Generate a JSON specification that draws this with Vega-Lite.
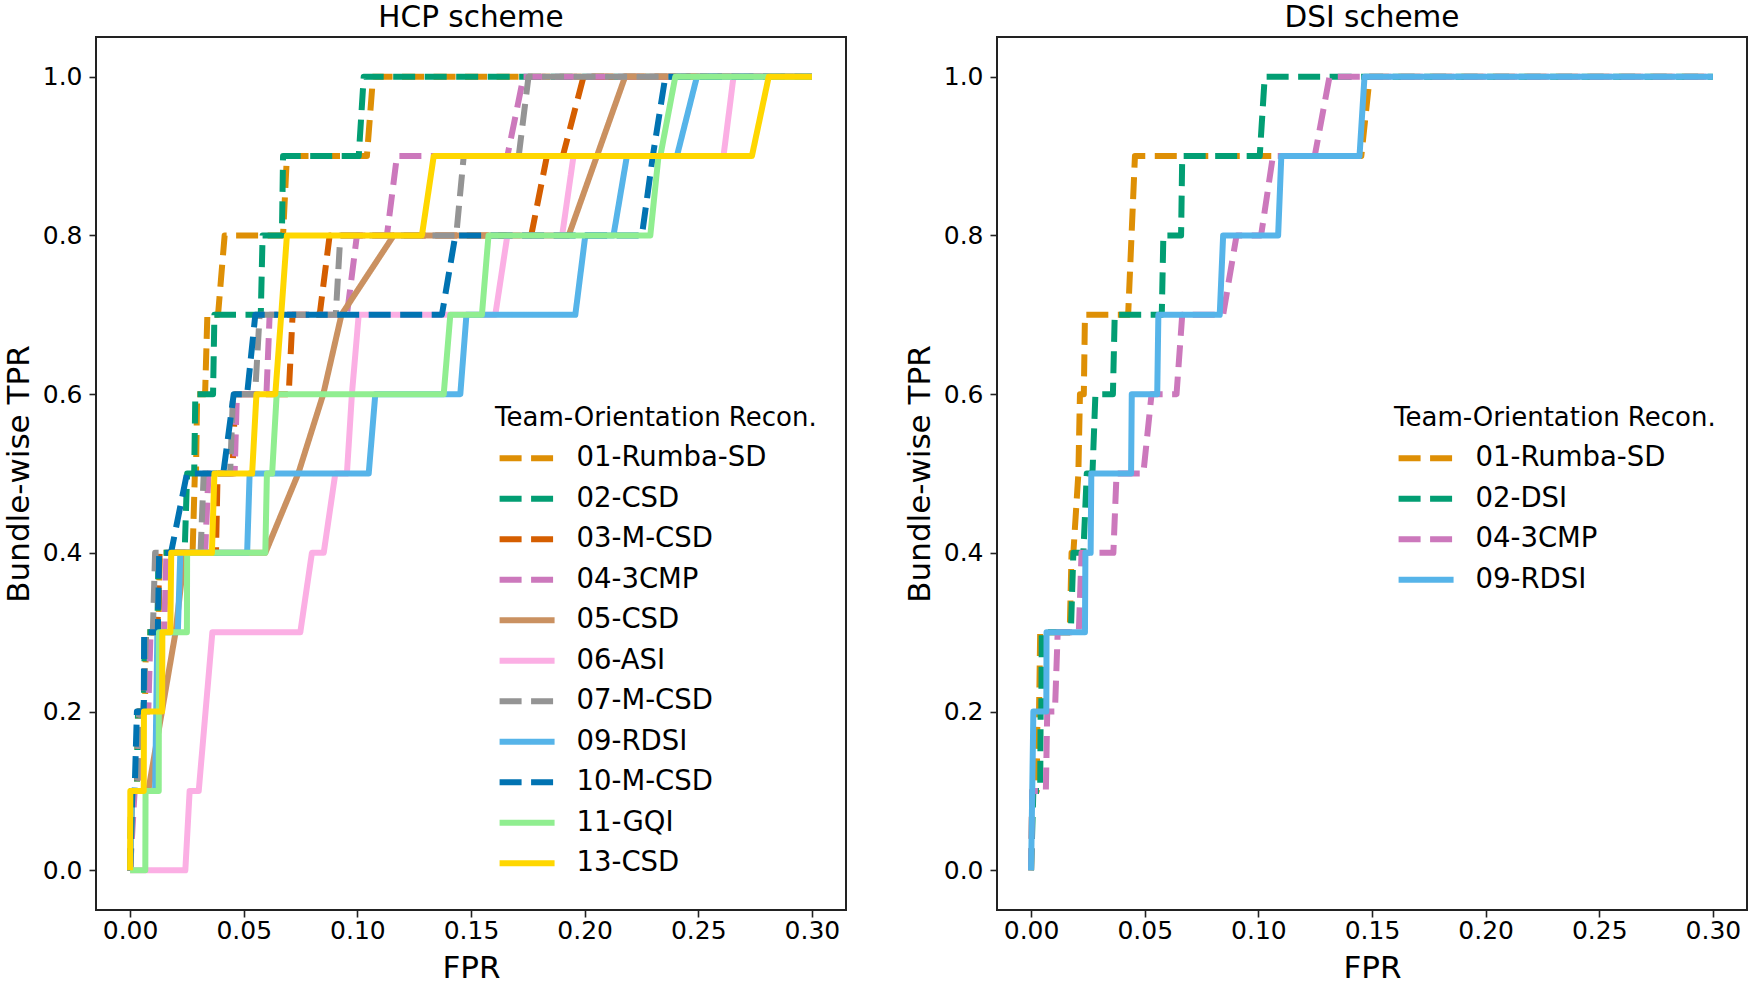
{
"$schema": "https://vega.github.io/schema/vega-lite/v6.json",
"background": "white",
"padding": {"left": 2, "top": 1, "right": 0, "bottom": 0},
"bounds": "flush",
"spacing": 151,
"config": {
  "font": "DejaVu Sans",
  "view": {"stroke": "#222222", "strokeWidth": 2},
  "axis": {"grid": false, "domain": false, "tickColor": "#222222", "tickWidth": 1.6, "tickSize": 7, "labelFont": "DejaVu Sans", "labelFontSize": 25, "labelColor": "black", "titleFont": "DejaVu Sans", "titleFontSize": 31, "titleFontWeight": "normal", "titleColor": "black"},
  "axisX": {"labelPadding": 1, "titlePadding": 10},
  "axisY": {"labelPadding": 7, "titlePadding": 7},
  "legend": {"titleFont": "DejaVu Sans", "titleFontSize": 26, "titleFontWeight": "normal", "titleColor": "black", "labelFont": "DejaVu Sans", "labelFontSize": 27.5, "labelColor": "black", "symbolType": "M-1,0H5", "symbolSize": 336, "symbolStrokeWidth": 6, "rowPadding": 11.5, "titlePadding": 14, "labelOffset": 54, "padding": 0, "labelLimit": 500, "titleLimit": 600},
  "title": {"font": "DejaVu Sans", "fontSize": 29.5, "fontWeight": "normal", "color": "black", "offset": 4}
},
"datasets": {
"hcp": [
{"team":"01-Rumba-SD","i":0,"fpr":0,"tpr":0},{"team":"01-Rumba-SD","i":1,"fpr":0.0005,"tpr":0.1},{"team":"01-Rumba-SD","i":2,"fpr":0.003,"tpr":0.1},{"team":"01-Rumba-SD","i":3,"fpr":0.0035,"tpr":0.2},{"team":"01-Rumba-SD","i":4,"fpr":0.0065,"tpr":0.2},{"team":"01-Rumba-SD","i":5,"fpr":0.007,"tpr":0.3},{"team":"01-Rumba-SD","i":6,"fpr":0.0125,"tpr":0.3},{"team":"01-Rumba-SD","i":7,"fpr":0.013,"tpr":0.4},{"team":"01-Rumba-SD","i":8,"fpr":0.0275,"tpr":0.4},{"team":"01-Rumba-SD","i":9,"fpr":0.0285,"tpr":0.5},{"team":"01-Rumba-SD","i":10,"fpr":0.029,"tpr":0.5},{"team":"01-Rumba-SD","i":11,"fpr":0.0295,"tpr":0.6},{"team":"01-Rumba-SD","i":12,"fpr":0.033,"tpr":0.6},{"team":"01-Rumba-SD","i":13,"fpr":0.034,"tpr":0.7},{"team":"01-Rumba-SD","i":14,"fpr":0.0387,"tpr":0.7},{"team":"01-Rumba-SD","i":15,"fpr":0.0416,"tpr":0.8},{"team":"01-Rumba-SD","i":16,"fpr":0.0673,"tpr":0.8},{"team":"01-Rumba-SD","i":17,"fpr":0.069,"tpr":0.9},{"team":"01-Rumba-SD","i":18,"fpr":0.1042,"tpr":0.9},{"team":"01-Rumba-SD","i":19,"fpr":0.1069,"tpr":1.0},{"team":"01-Rumba-SD","i":20,"fpr":0.3,"tpr":1.0},
{"team":"02-CSD","i":0,"fpr":0,"tpr":0},{"team":"02-CSD","i":1,"fpr":0.0005,"tpr":0.1},{"team":"02-CSD","i":2,"fpr":0.003,"tpr":0.1},{"team":"02-CSD","i":3,"fpr":0.0035,"tpr":0.2},{"team":"02-CSD","i":4,"fpr":0.006,"tpr":0.2},{"team":"02-CSD","i":5,"fpr":0.0065,"tpr":0.3},{"team":"02-CSD","i":6,"fpr":0.012,"tpr":0.3},{"team":"02-CSD","i":7,"fpr":0.0125,"tpr":0.4},{"team":"02-CSD","i":8,"fpr":0.024,"tpr":0.4},{"team":"02-CSD","i":9,"fpr":0.0251,"tpr":0.5},{"team":"02-CSD","i":10,"fpr":0.0282,"tpr":0.5},{"team":"02-CSD","i":11,"fpr":0.0287,"tpr":0.6},{"team":"02-CSD","i":12,"fpr":0.0365,"tpr":0.6},{"team":"02-CSD","i":13,"fpr":0.0371,"tpr":0.7},{"team":"02-CSD","i":14,"fpr":0.0575,"tpr":0.7},{"team":"02-CSD","i":15,"fpr":0.0583,"tpr":0.8},{"team":"02-CSD","i":16,"fpr":0.0668,"tpr":0.8},{"team":"02-CSD","i":17,"fpr":0.0673,"tpr":0.9},{"team":"02-CSD","i":18,"fpr":0.1006,"tpr":0.9},{"team":"02-CSD","i":19,"fpr":0.1028,"tpr":1.0},{"team":"02-CSD","i":20,"fpr":0.3,"tpr":1.0},
{"team":"03-M-CSD","i":0,"fpr":0,"tpr":0},{"team":"03-M-CSD","i":1,"fpr":0.001,"tpr":0.1},{"team":"03-M-CSD","i":2,"fpr":0.003,"tpr":0.1},{"team":"03-M-CSD","i":3,"fpr":0.004,"tpr":0.2},{"team":"03-M-CSD","i":4,"fpr":0.006,"tpr":0.2},{"team":"03-M-CSD","i":5,"fpr":0.007,"tpr":0.3},{"team":"03-M-CSD","i":6,"fpr":0.012,"tpr":0.3},{"team":"03-M-CSD","i":7,"fpr":0.013,"tpr":0.4},{"team":"03-M-CSD","i":8,"fpr":0.0378,"tpr":0.4},{"team":"03-M-CSD","i":9,"fpr":0.0385,"tpr":0.5},{"team":"03-M-CSD","i":10,"fpr":0.045,"tpr":0.5},{"team":"03-M-CSD","i":11,"fpr":0.0463,"tpr":0.6},{"team":"03-M-CSD","i":12,"fpr":0.0698,"tpr":0.6},{"team":"03-M-CSD","i":13,"fpr":0.0715,"tpr":0.7},{"team":"03-M-CSD","i":14,"fpr":0.0834,"tpr":0.7},{"team":"03-M-CSD","i":15,"fpr":0.0878,"tpr":0.8},{"team":"03-M-CSD","i":16,"fpr":0.1765,"tpr":0.8},{"team":"03-M-CSD","i":17,"fpr":0.1834,"tpr":0.9},{"team":"03-M-CSD","i":18,"fpr":0.1904,"tpr":0.9},{"team":"03-M-CSD","i":19,"fpr":0.1995,"tpr":1.0},{"team":"03-M-CSD","i":20,"fpr":0.3,"tpr":1.0},
{"team":"04-3CMP","i":0,"fpr":0,"tpr":0},{"team":"04-3CMP","i":1,"fpr":0.002,"tpr":0.1},{"team":"04-3CMP","i":2,"fpr":0.004,"tpr":0.1},{"team":"04-3CMP","i":3,"fpr":0.005,"tpr":0.2},{"team":"04-3CMP","i":4,"fpr":0.008,"tpr":0.2},{"team":"04-3CMP","i":5,"fpr":0.009,"tpr":0.3},{"team":"04-3CMP","i":6,"fpr":0.015,"tpr":0.3},{"team":"04-3CMP","i":7,"fpr":0.016,"tpr":0.4},{"team":"04-3CMP","i":8,"fpr":0.033,"tpr":0.4},{"team":"04-3CMP","i":9,"fpr":0.0345,"tpr":0.5},{"team":"04-3CMP","i":10,"fpr":0.046,"tpr":0.5},{"team":"04-3CMP","i":11,"fpr":0.047,"tpr":0.6},{"team":"04-3CMP","i":12,"fpr":0.06,"tpr":0.6},{"team":"04-3CMP","i":13,"fpr":0.0614,"tpr":0.7},{"team":"04-3CMP","i":14,"fpr":0.0954,"tpr":0.7},{"team":"04-3CMP","i":15,"fpr":0.0998,"tpr":0.8},{"team":"04-3CMP","i":16,"fpr":0.113,"tpr":0.8},{"team":"04-3CMP","i":17,"fpr":0.1174,"tpr":0.9},{"team":"04-3CMP","i":18,"fpr":0.166,"tpr":0.9},{"team":"04-3CMP","i":19,"fpr":0.1731,"tpr":1.0},{"team":"04-3CMP","i":20,"fpr":0.3,"tpr":1.0},
{"team":"05-CSD","i":0,"fpr":0,"tpr":0},{"team":"05-CSD","i":1,"fpr":0.001,"tpr":0.1},{"team":"05-CSD","i":2,"fpr":0.008,"tpr":0.1},{"team":"05-CSD","i":3,"fpr":0.02,"tpr":0.3},{"team":"05-CSD","i":4,"fpr":0.024,"tpr":0.4},{"team":"05-CSD","i":5,"fpr":0.0595,"tpr":0.4},{"team":"05-CSD","i":6,"fpr":0.074,"tpr":0.5},{"team":"05-CSD","i":7,"fpr":0.085,"tpr":0.6},{"team":"05-CSD","i":8,"fpr":0.093,"tpr":0.7},{"team":"05-CSD","i":9,"fpr":0.116,"tpr":0.8},{"team":"05-CSD","i":10,"fpr":0.193,"tpr":0.8},{"team":"05-CSD","i":11,"fpr":0.2054,"tpr":0.9},{"team":"05-CSD","i":12,"fpr":0.2178,"tpr":1.0},{"team":"05-CSD","i":13,"fpr":0.3,"tpr":1.0},
{"team":"06-ASI","i":0,"fpr":0,"tpr":0},{"team":"06-ASI","i":1,"fpr":0.0243,"tpr":0},{"team":"06-ASI","i":2,"fpr":0.0262,"tpr":0.1},{"team":"06-ASI","i":3,"fpr":0.0302,"tpr":0.1},{"team":"06-ASI","i":4,"fpr":0.0362,"tpr":0.3},{"team":"06-ASI","i":5,"fpr":0.0749,"tpr":0.3},{"team":"06-ASI","i":6,"fpr":0.08,"tpr":0.4},{"team":"06-ASI","i":7,"fpr":0.0852,"tpr":0.4},{"team":"06-ASI","i":8,"fpr":0.0903,"tpr":0.5},{"team":"06-ASI","i":9,"fpr":0.0954,"tpr":0.5},{"team":"06-ASI","i":10,"fpr":0.0976,"tpr":0.6},{"team":"06-ASI","i":11,"fpr":0.1006,"tpr":0.7},{"team":"06-ASI","i":12,"fpr":0.1607,"tpr":0.7},{"team":"06-ASI","i":13,"fpr":0.166,"tpr":0.8},{"team":"06-ASI","i":14,"fpr":0.1901,"tpr":0.8},{"team":"06-ASI","i":15,"fpr":0.1951,"tpr":0.9},{"team":"06-ASI","i":16,"fpr":0.2611,"tpr":0.9},{"team":"06-ASI","i":17,"fpr":0.2655,"tpr":1.0},{"team":"06-ASI","i":18,"fpr":0.3,"tpr":1.0},
{"team":"07-M-CSD","i":0,"fpr":0,"tpr":0},{"team":"07-M-CSD","i":1,"fpr":0.001,"tpr":0.1},{"team":"07-M-CSD","i":2,"fpr":0.003,"tpr":0.1},{"team":"07-M-CSD","i":3,"fpr":0.004,"tpr":0.2},{"team":"07-M-CSD","i":4,"fpr":0.006,"tpr":0.2},{"team":"07-M-CSD","i":5,"fpr":0.007,"tpr":0.3},{"team":"07-M-CSD","i":6,"fpr":0.01,"tpr":0.3},{"team":"07-M-CSD","i":7,"fpr":0.011,"tpr":0.4},{"team":"07-M-CSD","i":8,"fpr":0.031,"tpr":0.4},{"team":"07-M-CSD","i":9,"fpr":0.0324,"tpr":0.5},{"team":"07-M-CSD","i":10,"fpr":0.044,"tpr":0.5},{"team":"07-M-CSD","i":11,"fpr":0.0453,"tpr":0.6},{"team":"07-M-CSD","i":12,"fpr":0.055,"tpr":0.6},{"team":"07-M-CSD","i":13,"fpr":0.057,"tpr":0.7},{"team":"07-M-CSD","i":14,"fpr":0.0905,"tpr":0.7},{"team":"07-M-CSD","i":15,"fpr":0.0925,"tpr":0.8},{"team":"07-M-CSD","i":16,"fpr":0.1435,"tpr":0.8},{"team":"07-M-CSD","i":17,"fpr":0.1468,"tpr":0.9},{"team":"07-M-CSD","i":18,"fpr":0.171,"tpr":0.9},{"team":"07-M-CSD","i":19,"fpr":0.1753,"tpr":1.0},{"team":"07-M-CSD","i":20,"fpr":0.3,"tpr":1.0},
{"team":"09-RDSI","i":0,"fpr":0,"tpr":0},{"team":"09-RDSI","i":1,"fpr":0.001,"tpr":0.1},{"team":"09-RDSI","i":2,"fpr":0.011,"tpr":0.1},{"team":"09-RDSI","i":3,"fpr":0.0115,"tpr":0.2},{"team":"09-RDSI","i":4,"fpr":0.012,"tpr":0.3},{"team":"09-RDSI","i":5,"fpr":0.021,"tpr":0.3},{"team":"09-RDSI","i":6,"fpr":0.0221,"tpr":0.4},{"team":"09-RDSI","i":7,"fpr":0.0515,"tpr":0.4},{"team":"09-RDSI","i":8,"fpr":0.0526,"tpr":0.5},{"team":"09-RDSI","i":9,"fpr":0.105,"tpr":0.5},{"team":"09-RDSI","i":10,"fpr":0.1079,"tpr":0.6},{"team":"09-RDSI","i":11,"fpr":0.1453,"tpr":0.6},{"team":"09-RDSI","i":12,"fpr":0.148,"tpr":0.7},{"team":"09-RDSI","i":13,"fpr":0.1959,"tpr":0.7},{"team":"09-RDSI","i":14,"fpr":0.2003,"tpr":0.8},{"team":"09-RDSI","i":15,"fpr":0.2127,"tpr":0.8},{"team":"09-RDSI","i":16,"fpr":0.2186,"tpr":0.9},{"team":"09-RDSI","i":17,"fpr":0.2406,"tpr":0.9},{"team":"09-RDSI","i":18,"fpr":0.2494,"tpr":1.0},{"team":"09-RDSI","i":19,"fpr":0.3,"tpr":1.0},
{"team":"10-M-CSD","i":0,"fpr":0,"tpr":0},{"team":"10-M-CSD","i":1,"fpr":0.001,"tpr":0.1},{"team":"10-M-CSD","i":2,"fpr":0.002,"tpr":0.1},{"team":"10-M-CSD","i":3,"fpr":0.003,"tpr":0.2},{"team":"10-M-CSD","i":4,"fpr":0.006,"tpr":0.2},{"team":"10-M-CSD","i":5,"fpr":0.0062,"tpr":0.3},{"team":"10-M-CSD","i":6,"fpr":0.0122,"tpr":0.3},{"team":"10-M-CSD","i":7,"fpr":0.0128,"tpr":0.4},{"team":"10-M-CSD","i":8,"fpr":0.018,"tpr":0.4},{"team":"10-M-CSD","i":9,"fpr":0.025,"tpr":0.5},{"team":"10-M-CSD","i":10,"fpr":0.041,"tpr":0.5},{"team":"10-M-CSD","i":11,"fpr":0.0456,"tpr":0.6},{"team":"10-M-CSD","i":12,"fpr":0.0515,"tpr":0.6},{"team":"10-M-CSD","i":13,"fpr":0.0551,"tpr":0.7},{"team":"10-M-CSD","i":14,"fpr":0.1372,"tpr":0.7},{"team":"10-M-CSD","i":15,"fpr":0.1431,"tpr":0.8},{"team":"10-M-CSD","i":16,"fpr":0.2252,"tpr":0.8},{"team":"10-M-CSD","i":17,"fpr":0.23,"tpr":0.9},{"team":"10-M-CSD","i":18,"fpr":0.2355,"tpr":1.0},{"team":"10-M-CSD","i":19,"fpr":0.3,"tpr":1.0},
{"team":"11-GQI","i":0,"fpr":0,"tpr":0},{"team":"11-GQI","i":1,"fpr":0.0067,"tpr":0},{"team":"11-GQI","i":2,"fpr":0.0068,"tpr":0.1},{"team":"11-GQI","i":3,"fpr":0.0126,"tpr":0.1},{"team":"11-GQI","i":4,"fpr":0.0127,"tpr":0.3},{"team":"11-GQI","i":5,"fpr":0.025,"tpr":0.3},{"team":"11-GQI","i":6,"fpr":0.0251,"tpr":0.4},{"team":"11-GQI","i":7,"fpr":0.0595,"tpr":0.4},{"team":"11-GQI","i":8,"fpr":0.0602,"tpr":0.5},{"team":"11-GQI","i":9,"fpr":0.0625,"tpr":0.5},{"team":"11-GQI","i":10,"fpr":0.0645,"tpr":0.6},{"team":"11-GQI","i":11,"fpr":0.138,"tpr":0.6},{"team":"11-GQI","i":12,"fpr":0.1409,"tpr":0.7},{"team":"11-GQI","i":13,"fpr":0.1548,"tpr":0.7},{"team":"11-GQI","i":14,"fpr":0.1577,"tpr":0.8},{"team":"11-GQI","i":15,"fpr":0.2289,"tpr":0.8},{"team":"11-GQI","i":16,"fpr":0.2325,"tpr":0.9},{"team":"11-GQI","i":17,"fpr":0.2333,"tpr":0.9},{"team":"11-GQI","i":18,"fpr":0.2399,"tpr":1.0},{"team":"11-GQI","i":19,"fpr":0.3,"tpr":1.0},
{"team":"13-CSD","i":0,"fpr":0,"tpr":0},{"team":"13-CSD","i":1,"fpr":0.0001,"tpr":0.1},{"team":"13-CSD","i":2,"fpr":0.006,"tpr":0.1},{"team":"13-CSD","i":3,"fpr":0.0061,"tpr":0.2},{"team":"13-CSD","i":4,"fpr":0.0141,"tpr":0.2},{"team":"13-CSD","i":5,"fpr":0.0142,"tpr":0.3},{"team":"13-CSD","i":6,"fpr":0.0177,"tpr":0.3},{"team":"13-CSD","i":7,"fpr":0.0181,"tpr":0.4},{"team":"13-CSD","i":8,"fpr":0.036,"tpr":0.4},{"team":"13-CSD","i":9,"fpr":0.0371,"tpr":0.5},{"team":"13-CSD","i":10,"fpr":0.0537,"tpr":0.5},{"team":"13-CSD","i":11,"fpr":0.0556,"tpr":0.6},{"team":"13-CSD","i":12,"fpr":0.0639,"tpr":0.6},{"team":"13-CSD","i":13,"fpr":0.0665,"tpr":0.7},{"team":"13-CSD","i":14,"fpr":0.069,"tpr":0.8},{"team":"13-CSD","i":15,"fpr":0.1284,"tpr":0.8},{"team":"13-CSD","i":16,"fpr":0.1336,"tpr":0.9},{"team":"13-CSD","i":17,"fpr":0.2736,"tpr":0.9},{"team":"13-CSD","i":18,"fpr":0.281,"tpr":1.0},{"team":"13-CSD","i":19,"fpr":0.3,"tpr":1.0}
],
"dsi": [
{"team":"01-Rumba-SD","i":0,"fpr":0,"tpr":0},{"team":"01-Rumba-SD","i":1,"fpr":0.0005,"tpr":0.1},{"team":"01-Rumba-SD","i":2,"fpr":0.0025,"tpr":0.1},{"team":"01-Rumba-SD","i":3,"fpr":0.0028,"tpr":0.2},{"team":"01-Rumba-SD","i":4,"fpr":0.0035,"tpr":0.2},{"team":"01-Rumba-SD","i":5,"fpr":0.004,"tpr":0.3},{"team":"01-Rumba-SD","i":6,"fpr":0.017,"tpr":0.3},{"team":"01-Rumba-SD","i":7,"fpr":0.0178,"tpr":0.4},{"team":"01-Rumba-SD","i":8,"fpr":0.0186,"tpr":0.4},{"team":"01-Rumba-SD","i":9,"fpr":0.0208,"tpr":0.5},{"team":"01-Rumba-SD","i":10,"fpr":0.0215,"tpr":0.6},{"team":"01-Rumba-SD","i":11,"fpr":0.0232,"tpr":0.6},{"team":"01-Rumba-SD","i":12,"fpr":0.0237,"tpr":0.7},{"team":"01-Rumba-SD","i":13,"fpr":0.0427,"tpr":0.7},{"team":"01-Rumba-SD","i":14,"fpr":0.0457,"tpr":0.9},{"team":"01-Rumba-SD","i":15,"fpr":0.1453,"tpr":0.9},{"team":"01-Rumba-SD","i":16,"fpr":0.149,"tpr":1.0},{"team":"01-Rumba-SD","i":17,"fpr":0.3,"tpr":1.0},
{"team":"02-DSI","i":0,"fpr":0,"tpr":0},{"team":"02-DSI","i":1,"fpr":0.001,"tpr":0.1},{"team":"02-DSI","i":2,"fpr":0.004,"tpr":0.1},{"team":"02-DSI","i":3,"fpr":0.0042,"tpr":0.2},{"team":"02-DSI","i":4,"fpr":0.0045,"tpr":0.2},{"team":"02-DSI","i":5,"fpr":0.0047,"tpr":0.3},{"team":"02-DSI","i":6,"fpr":0.0175,"tpr":0.3},{"team":"02-DSI","i":7,"fpr":0.0186,"tpr":0.4},{"team":"02-DSI","i":8,"fpr":0.023,"tpr":0.4},{"team":"02-DSI","i":9,"fpr":0.0245,"tpr":0.5},{"team":"02-DSI","i":10,"fpr":0.027,"tpr":0.5},{"team":"02-DSI","i":11,"fpr":0.0283,"tpr":0.6},{"team":"02-DSI","i":12,"fpr":0.036,"tpr":0.6},{"team":"02-DSI","i":13,"fpr":0.0368,"tpr":0.7},{"team":"02-DSI","i":14,"fpr":0.0575,"tpr":0.7},{"team":"02-DSI","i":15,"fpr":0.0582,"tpr":0.8},{"team":"02-DSI","i":16,"fpr":0.066,"tpr":0.8},{"team":"02-DSI","i":17,"fpr":0.0665,"tpr":0.9},{"team":"02-DSI","i":18,"fpr":0.1006,"tpr":0.9},{"team":"02-DSI","i":19,"fpr":0.1028,"tpr":1.0},{"team":"02-DSI","i":20,"fpr":0.3,"tpr":1.0},
{"team":"04-3CMP","i":0,"fpr":0,"tpr":0},{"team":"04-3CMP","i":1,"fpr":0.0005,"tpr":0.1},{"team":"04-3CMP","i":2,"fpr":0.0065,"tpr":0.1},{"team":"04-3CMP","i":3,"fpr":0.0071,"tpr":0.2},{"team":"04-3CMP","i":4,"fpr":0.0105,"tpr":0.2},{"team":"04-3CMP","i":5,"fpr":0.0117,"tpr":0.3},{"team":"04-3CMP","i":6,"fpr":0.021,"tpr":0.3},{"team":"04-3CMP","i":7,"fpr":0.0222,"tpr":0.4},{"team":"04-3CMP","i":8,"fpr":0.0362,"tpr":0.4},{"team":"04-3CMP","i":9,"fpr":0.0376,"tpr":0.5},{"team":"04-3CMP","i":10,"fpr":0.0494,"tpr":0.5},{"team":"04-3CMP","i":11,"fpr":0.053,"tpr":0.6},{"team":"04-3CMP","i":12,"fpr":0.064,"tpr":0.6},{"team":"04-3CMP","i":13,"fpr":0.0665,"tpr":0.7},{"team":"04-3CMP","i":14,"fpr":0.0845,"tpr":0.7},{"team":"04-3CMP","i":15,"fpr":0.0904,"tpr":0.8},{"team":"04-3CMP","i":16,"fpr":0.1012,"tpr":0.8},{"team":"04-3CMP","i":17,"fpr":0.1064,"tpr":0.9},{"team":"04-3CMP","i":18,"fpr":0.1248,"tpr":0.9},{"team":"04-3CMP","i":19,"fpr":0.1313,"tpr":1.0},{"team":"04-3CMP","i":20,"fpr":0.3,"tpr":1.0},
{"team":"09-RDSI","i":0,"fpr":0,"tpr":0},{"team":"09-RDSI","i":1,"fpr":0.0005,"tpr":0.1},{"team":"09-RDSI","i":2,"fpr":0.001,"tpr":0.2},{"team":"09-RDSI","i":3,"fpr":0.0067,"tpr":0.2},{"team":"09-RDSI","i":4,"fpr":0.0068,"tpr":0.3},{"team":"09-RDSI","i":5,"fpr":0.0237,"tpr":0.3},{"team":"09-RDSI","i":6,"fpr":0.0239,"tpr":0.4},{"team":"09-RDSI","i":7,"fpr":0.0262,"tpr":0.4},{"team":"09-RDSI","i":8,"fpr":0.0265,"tpr":0.5},{"team":"09-RDSI","i":9,"fpr":0.044,"tpr":0.5},{"team":"09-RDSI","i":10,"fpr":0.0443,"tpr":0.6},{"team":"09-RDSI","i":11,"fpr":0.0555,"tpr":0.6},{"team":"09-RDSI","i":12,"fpr":0.056,"tpr":0.7},{"team":"09-RDSI","i":13,"fpr":0.083,"tpr":0.7},{"team":"09-RDSI","i":14,"fpr":0.0845,"tpr":0.8},{"team":"09-RDSI","i":15,"fpr":0.1087,"tpr":0.8},{"team":"09-RDSI","i":16,"fpr":0.1101,"tpr":0.9},{"team":"09-RDSI","i":17,"fpr":0.1445,"tpr":0.9},{"team":"09-RDSI","i":18,"fpr":0.1467,"tpr":1.0},{"team":"09-RDSI","i":19,"fpr":0.3,"tpr":1.0}
]
},
"hconcat": [
{
 "title": "HCP scheme",
 "width": 750, "height": 873,
 "data": {"name": "hcp"},
 "mark": {"type": "line", "strokeWidth": 6, "strokeJoin": "round", "strokeCap": "butt"},
 "encoding": {
  "x": {"field": "fpr", "type": "quantitative", "scale": {"domain": [-0.015, 0.315], "nice": false, "zero": false}, "axis": {"values": [0, 0.05, 0.1, 0.15, 0.2, 0.25, 0.3], "format": ".2f", "title": "FPR"}},
  "y": {"field": "tpr", "type": "quantitative", "scale": {"domain": [-0.05, 1.05], "nice": false, "zero": false}, "axis": {"values": [0, 0.2, 0.4, 0.6, 0.8, 1.0], "format": ".1f", "title": "Bundle-wise TPR"}},
  "color": {"field": "team", "type": "nominal", "scale": {"domain": ["01-Rumba-SD","02-CSD","03-M-CSD","04-3CMP","05-CSD","06-ASI","07-M-CSD","09-RDSI","10-M-CSD","11-GQI","13-CSD"], "range": ["#de8f05","#029e73","#d55e00","#cc78bc","#ca9161","#fbafe4","#949494","#56b4e9","#0173b2","#90ee90","#ffd700"]}, "legend": {"title": "Team-Orientation Recon.", "orient": "none", "legendX": 399, "legendY": 367.5}},
  "strokeDash": {"field": "team", "type": "nominal", "scale": {"domain": ["01-Rumba-SD","02-CSD","03-M-CSD","04-3CMP","05-CSD","06-ASI","07-M-CSD","09-RDSI","10-M-CSD","11-GQI","13-CSD"], "range": [[22,9.5],[22,9.5],[22,9.5],[22,9.5],[1,0],[1,0],[22,9.5],[1,0],[22,9.5],[1,0],[1,0]]}, "legend": {"title": "Team-Orientation Recon.", "orient": "none", "legendX": 399, "legendY": 367.5}},
  "order": {"field": "i", "type": "quantitative"}
 }
},
{
 "title": "DSI scheme",
 "width": 750, "height": 873,
 "data": {"name": "dsi"},
 "mark": {"type": "line", "strokeWidth": 6, "strokeJoin": "round", "strokeCap": "butt"},
 "encoding": {
  "x": {"field": "fpr", "type": "quantitative", "scale": {"domain": [-0.015, 0.315], "nice": false, "zero": false}, "axis": {"values": [0, 0.05, 0.1, 0.15, 0.2, 0.25, 0.3], "format": ".2f", "title": "FPR"}},
  "y": {"field": "tpr", "type": "quantitative", "scale": {"domain": [-0.05, 1.05], "nice": false, "zero": false}, "axis": {"values": [0, 0.2, 0.4, 0.6, 0.8, 1.0], "format": ".1f", "title": "Bundle-wise TPR"}},
  "color": {"field": "team", "type": "nominal", "scale": {"domain": ["01-Rumba-SD","02-DSI","04-3CMP","09-RDSI"], "range": ["#de8f05","#029e73","#cc78bc","#56b4e9"]}, "legend": {"title": "Team-Orientation Recon.", "orient": "none", "legendX": 397, "legendY": 367.5}},
  "strokeDash": {"field": "team", "type": "nominal", "scale": {"domain": ["01-Rumba-SD","02-DSI","04-3CMP","09-RDSI"], "range": [[22,9.5],[22,9.5],[22,9.5],[1,0]]}, "legend": {"title": "Team-Orientation Recon.", "orient": "none", "legendX": 397, "legendY": 367.5}},
  "order": {"field": "i", "type": "quantitative"}
 }
}
],
"resolve": {"scale": {"color": "independent", "strokeDash": "independent", "x": "independent", "y": "independent"}, "axis": {"x": "independent", "y": "independent"}, "legend": {"color": "independent", "strokeDash": "independent"}}
}
